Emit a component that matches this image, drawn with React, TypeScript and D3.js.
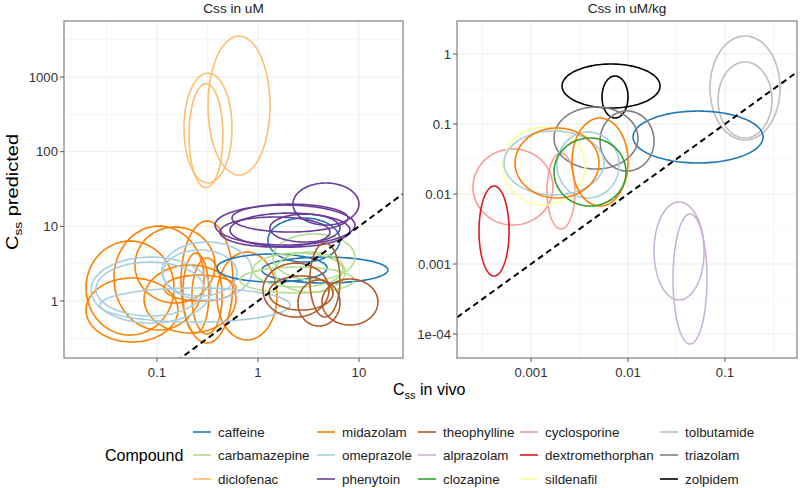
import React from "react";
import * as d3 from "d3";

// ---------- data ----------
const compounds = [
  "caffeine", "carbamazepine", "diclofenac",
  "midazolam", "omeprazole", "phenytoin",
  "theophylline", "alprazolam", "clozapine",
  "cyclosporine", "dextromethorphan", "sildenafil",
  "tolbutamide", "triazolam", "zolpidem",
];
const compoundColors = [
  "#1F78B4", "#B2DF8A", "#FDBF6F",
  "#FF7F00", "#A6CEE3", "#6A3D9A",
  "#B15928", "#CAB2D6", "#33A02C",
  "#FB9A99", "#E31A1C", "#FFFF99",
  "#BEBEBE", "#7F7F7F", "#000000",
];

// ellipses: [compound, log10 centre x, log10 centre y, half-width x (decades), half-height y (decades)]
type Ell = [string, number, number, number, number];

const ellipsesUM: Ell[] = [
  ["midazolam", -1.267, 0.174, 0.436, 0.629],
  ["midazolam", -0.98, 0.308, 0.446, 0.696],
  ["midazolam", -1.248, -0.12, 0.455, 0.428],
  ["midazolam", -0.673, 0.027, 0.455, 0.455],
  ["midazolam", -0.505, 0.254, 0.257, 0.817],
  ["midazolam", -0.614, 0.107, 0.129, 0.535],
  ["midazolam", -0.109, 0.067, 0.297, 0.589],
  ["midazolam", -0.574, 0.174, 0.356, 0.174],
  ["midazolam", -0.505, 0.067, 0.149, 0.509],
  ["midazolam", -0.822, 0.482, 0.396, 0.509],
  ["omeprazole", -1.059, 0.147, 0.594, 0.442],
  ["omeprazole", -1.069, 0.161, 0.535, 0.361],
  ["omeprazole", -0.505, 0.402, 0.446, 0.388],
  ["omeprazole", -0.574, 0.375, 0.366, 0.308],
  ["omeprazole", -0.624, -0.054, 0.941, 0.228],
  ["diclofenac", -0.188, 2.617, 0.307, 0.93],
  ["diclofenac", -0.495, 2.316, 0.238, 0.736],
  ["diclofenac", -0.515, 2.215, 0.168, 0.696],
  ["caffeine", 0.139, 0.442, 0.545, 0.187],
  ["caffeine", 0.663, 0.415, 0.624, 0.174],
  ["caffeine", 0.455, 0.817, 0.356, 0.295],
  ["carbamazepine", 0.386, 0.281, 0.564, 0.174],
  ["carbamazepine", 0.554, 0.589, 0.406, 0.308],
  ["carbamazepine", 0.396, 0.415, 0.446, 0.228],
  ["carbamazepine", 0.515, 0.388, 0.347, 0.268],
  ["phenytoin", 0.673, 1.299, 0.327, 0.281],
  ["phenytoin", 0.267, 1.017, 0.693, 0.268],
  ["phenytoin", 0.317, 0.95, 0.594, 0.228],
  ["phenytoin", 0.168, 0.924, 0.545, 0.201],
  ["phenytoin", 0.465, 0.977, 0.347, 0.187],
  ["phenytoin", 0.317, 1.111, 0.574, 0.187],
  ["theophylline", 0.376, 0.147, 0.327, 0.361],
  ["theophylline", 0.663, 0.281, 0.149, 0.495],
  ["theophylline", 0.911, -0.013, 0.277, 0.308],
  ["theophylline", 0.604, -0.027, 0.208, 0.308],
  ["theophylline", 0.426, 0.107, 0.317, 0.228],
];

const ellipsesUMkg: Ell[] = [
  ["tolbutamide", -0.794, -0.486, 0.361, 0.743],
  ["tolbutamide", -0.794, -0.657, 0.278, 0.543],
  ["zolpidem", -2.175, -0.457, 0.505, 0.314],
  ["zolpidem", -2.134, -0.614, 0.134, 0.3],
  ["caffeine", -1.278, -1.186, 0.67, 0.371],
  ["triazolam", -2.33, -1.2, 0.433, 0.443],
  ["triazolam", -2.01, -1.243, 0.278, 0.429],
  ["cyclosporine", -3.186, -1.9, 0.412, 0.543],
  ["cyclosporine", -2.691, -1.957, 0.144, 0.543],
  ["sildenafil", -2.866, -1.6, 0.423, 0.557],
  ["omeprazole", -2.763, -1.557, 0.515, 0.457],
  ["omeprazole", -2.412, -1.586, 0.32, 0.471],
  ["midazolam", -2.732, -1.557, 0.433, 0.5],
  ["midazolam", -2.289, -1.543, 0.289, 0.629],
  ["clozapine", -2.392, -1.686, 0.371, 0.486],
  ["dextromethorphan", -3.381, -2.529, 0.155, 0.643],
  ["alprazolam", -1.474, -2.814, 0.258, 0.7],
  ["alprazolam", -1.361, -3.214, 0.175, 0.929],
];

const leftXDomain = [0.012, 27.3];
const leftYDomain = [0.1726, 5623];
const rightXDomain = [1.726e-4, 0.552];
const rightYDomain = [4.54e-5, 2.96];

const leftXTicks = [0.1, 1, 10];
const leftXLabels = ["0.1", "1", "10"];
const leftYTicks = [1, 10, 100, 1000];
const leftYLabels = ["1", "10", "100", "1000"];
const rightXTicks = [0.001, 0.01, 0.1];
const rightXLabels = ["0.001", "0.01", "0.1"];
const rightYTicks = [1e-4, 0.001, 0.01, 0.1, 1];
const rightYLabels = ["1e-04", "0.001", "0.01", "0.1", "1"];

const panelTitles = ["Css in uM", "Css in uM/kg"];

// ---------- layout ----------
const W = 800, H = 488;
const FONT = "'Liberation Sans', Arial, Helvetica, sans-serif";
const panels = [
  { x0: 64, x1: 403, y0: 21, y1: 358, xd: leftXDomain, yd: leftYDomain, xt: leftXTicks, xl: leftXLabels, yt: leftYTicks, yl: leftYLabels, ells: ellipsesUM, title: panelTitles[0] },
  { x0: 457, x1: 797, y0: 21, y1: 358, xd: rightXDomain, yd: rightYDomain, xt: rightXTicks, xl: rightXLabels, yt: rightYTicks, yl: rightYLabels, ells: ellipsesUMkg, title: panelTitles[1] },
];

const colorOf = d3.scaleOrdinal<string, string>().domain(compounds).range(compoundColors);

function minorsOf(ticks: number[], dom: number[]) {
  const out: number[] = [];
  const ext = [ticks[0] / 10, ...ticks, ticks[ticks.length - 1] * 10];
  for (let i = 0; i < ext.length - 1; i++) {
    const m = Math.sqrt(ext[i] * ext[i + 1]);
    if (m > dom[0] && m < dom[1]) out.push(m);
  }
  return out;
}

function Panel({ p, idx }: { p: any; idx: number }) {
  const x = d3.scaleLog().domain(p.xd).range([p.x0, p.x1]);
  const y = d3.scaleLog().domain(p.yd).range([p.y1, p.y0]);
  const line = d3.line<[number, number]>().x(d => x(d[0])).y(d => y(d[1])).curve(d3.curveLinearClosed);
  const N = 120;
  const clipId = `clip${idx}`;
  const xMin = minorsOf(p.xt, p.xd);
  const yMin = minorsOf(p.yt, p.yd);
  const diag: [number, number][] = [[p.xd[0], p.xd[0]], [p.xd[1], p.xd[1]]];
  const dline = d3.line<[number, number]>().x(d => x(d[0])).y(d => y(d[1]));
  return (
    <g>
      <defs>
        <clipPath id={clipId}>
          <rect x={p.x0} y={p.y0} width={p.x1 - p.x0} height={p.y1 - p.y0} />
        </clipPath>
      </defs>
      <rect x={p.x0} y={p.y0} width={p.x1 - p.x0} height={p.y1 - p.y0} fill="#fff" />
      {xMin.map((v: number, i: number) => (
        <line key={"xm" + i} x1={x(v)} x2={x(v)} y1={p.y0} y2={p.y1} stroke="#f2f2f2" strokeWidth={0.7} />
      ))}
      {yMin.map((v: number, i: number) => (
        <line key={"ym" + i} x1={p.x0} x2={p.x1} y1={y(v)} y2={y(v)} stroke="#f2f2f2" strokeWidth={0.7} />
      ))}
      {p.xt.map((v: number, i: number) => (
        <line key={"xg" + i} x1={x(v)} x2={x(v)} y1={p.y0} y2={p.y1} stroke="#ebebeb" strokeWidth={1} />
      ))}
      {p.yt.map((v: number, i: number) => (
        <line key={"yg" + i} x1={p.x0} x2={p.x1} y1={y(v)} y2={y(v)} stroke="#ebebeb" strokeWidth={1} />
      ))}
      <g clipPath={`url(#${clipId})`}>
        {p.ells.map((e: Ell, i: number) => {
          const pts: [number, number][] = d3.range(N).map(k => {
            const t = (k / N) * 2 * Math.PI;
            return [Math.pow(10, e[1] + e[3] * Math.cos(t)), Math.pow(10, e[2] + e[4] * Math.sin(t))];
          });
          return <path key={i} d={line(pts) || ""} fill="none" stroke={colorOf(e[0])} strokeWidth={1.6} />;
        })}
        <path d={dline(diag) || ""} stroke="#000" strokeWidth={2} strokeDasharray="6,4" fill="none" />
      </g>
      <rect x={p.x0} y={p.y0} width={p.x1 - p.x0} height={p.y1 - p.y0} fill="none" stroke="#8a8a8a" strokeWidth={1.3} />
      {p.xt.map((v: number, i: number) => (
        <g key={"xt" + i}>
          <line x1={x(v)} x2={x(v)} y1={p.y1} y2={p.y1 + 4} stroke="#555" strokeWidth={1} />
          <text x={x(v)} y={p.y1 + 19} textAnchor="middle" fontSize={13.2} fill="#333" fontFamily={FONT}>{p.xl[i]}</text>
        </g>
      ))}
      {p.yt.map((v: number, i: number) => (
        <g key={"yt" + i}>
          <line x1={p.x0 - 4} x2={p.x0} y1={y(v)} y2={y(v)} stroke="#555" strokeWidth={1} />
          <text x={p.x0 - 6} y={y(v) + 4.7} textAnchor="end" fontSize={13.2} fill="#333" fontFamily={FONT}>{p.yl[i]}</text>
        </g>
      ))}
      <text x={(p.x0 + p.x1) / 2} y={13} textAnchor="middle" fontSize={13.6} fill="#222" fontFamily={FONT}>{p.title}</text>
    </g>
  );
}

export default function App() {
  const legendCols = [193, 317, 418, 520, 660];
  const legendRows = [432, 455, 479];
  return (
    <svg width={W} height={H} style={{ position: "absolute", left: 0, top: 0, background: "#fff" }} fontFamily={FONT}>
      <rect width={W} height={H} fill="#fff" />
      {panels.map((p, i) => <Panel key={i} p={p} idx={i} />)}
      {/* axis titles */}
      <text x={393} y={395} fontSize={16} fill="#000" fontFamily={FONT}>
        C<tspan fontSize={11} dy={4}>ss</tspan><tspan dy={-4}> in vivo</tspan>
      </text>
      <text transform="translate(18,250) rotate(-90) scale(1.25,1)" fontSize={16} fill="#000" fontFamily={FONT}>
        C<tspan fontSize={11} dy={4}>ss</tspan><tspan dy={-4}> predicted</tspan>
      </text>
      {/* legend */}
      <text x={105} y={461} fontSize={16} fill="#000" fontFamily={FONT}>Compound</text>
      {compounds.map((c, i) => {
        const col = Math.floor(i / 3), row = i % 3;
        const lx = legendCols[col], ly = legendRows[row];
        return (
          <g key={c}>
            <line x1={lx} x2={lx + 18} y1={ly} y2={ly} stroke={colorOf(c)} strokeWidth={1.6} />
            <text x={lx + 25} y={ly + 4.6} fontSize={13.4} fill="#222" fontFamily={FONT}>{c}</text>
          </g>
        );
      })}
    </svg>
  );
}
